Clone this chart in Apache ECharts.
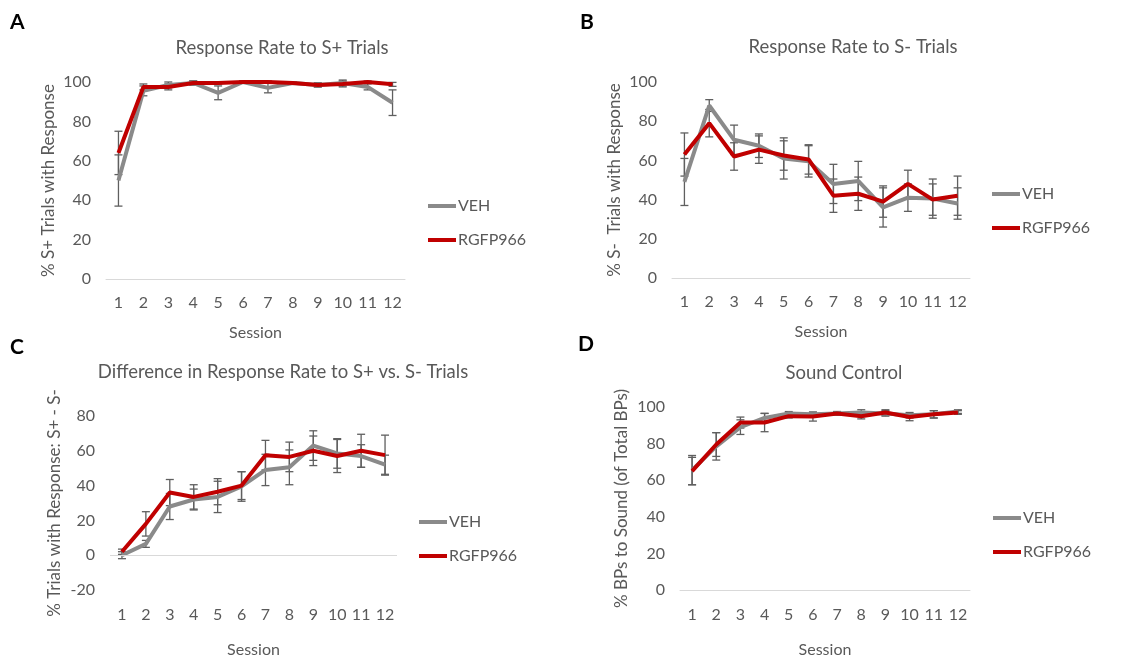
<!DOCTYPE html>
<html>
<head>
<meta charset="utf-8">
<script src="https://cdn.jsdelivr.net/npm/echarts@6/dist/echarts.min.js"></script>
<style>
  html, body { margin: 0; padding: 0; background: #ffffff; }
  #chart { width: 1137px; height: 659px; }
</style>
</head>
<body>
<div id="chart"></div>
<script>
// Sessions on the x axis
const sessions = ['1','2','3','4','5','6','7','8','9','10','11','12'];

// A: response rate to S+ trials (mean and SEM)
const vehA     = [50, 95.5, 98.5, 99.5, 94.5, 100, 97, 99.5, 98.5, 99.5, 97.5, 89.5];
const vehErrA  = [13, 2.5, 1.5, 1, 3.5, 0.5, 2.5, 0.5, 1, 1.5, 1.5, 6.5];
const rgfA     = [64, 97.5, 97.5, 99.5, 99.5, 100, 100, 99.5, 98.5, 99, 100, 98.8];
const rgfErrA  = [11, 1.5, 1.5, 1, 0.5, 0.5, 0.5, 0.5, 1, 1.5, 0.5, 1];

// B: response rate to S- trials
const vehB     = [49, 88, 70.5, 67.5, 61, 59.5, 48, 49.5, 36, 41, 40.5, 38];
const vehErrB  = [12, 3, 7.5, 6, 10.5, 8, 10, 10, 10, 7, 10, 8];
const rgfB     = [63, 79, 62, 65.5, 62.5, 60.5, 42, 43, 39, 48, 40, 42];
const rgfErrB  = [11, 7, 7, 7, 7.5, 7.5, 8.5, 8.5, 8, 7, 8, 10];

// C: difference S+ minus S-
const vehC     = [0, 6.5, 28, 32, 33.5, 39.5, 49, 50.5, 63, 58.5, 57, 52];
const vehErrC  = [2, 2, 7.5, 6, 9, 8.5, 9, 10, 8.5, 8.5, 6.5, 5.5];
const rgfC     = [2, 18, 36, 33.5, 36.5, 40, 57.5, 56.5, 60, 57, 60, 57.5];
const rgfErrC  = [1.5, 7, 7.5, 7, 7.5, 8, 8.5, 8.5, 8.5, 9.5, 9.5, 11.5];

// D: sound control
const vehD     = [65.5, 78.5, 89, 94, 96.5, 96, 96.5, 97, 96.5, 95.5, 96, 97.5];
const vehErrD  = [8, 7.5, 4, 2.5, 1, 1, 1, 1.5, 1.5, 1.5, 2, 1];
const rgfD     = [65, 79.5, 91.5, 91.5, 95, 94.8, 96.5, 95, 97, 94.5, 96, 97];
const rgfErrD  = [7.5, 6.5, 3, 5, 1, 2.5, 1, 1.5, 1.5, 2, 2, 1];

const titles = [
  'Response Rate to S+ Trials',
  'Response Rate to S- Trials',
  'Difference in Response Rate to S+ vs. S- Trials',
  'Sound Control'
];
const yNames = [
  '% S+ Trials with Response',
  '% S-  Trials with Response',
  '% Trials with Response: S+ - S-',
  '% BPs to Sound (of Total BPs)'
];
const letters = ['A', 'B', 'C', 'D'];

const FONT = 'Lato, "Open Sans", sans-serif';
const TXT = '#595959';
const GRAY = '#8a8a8a';
const RED = '#c00000';

const panels = [
  { grid: { left: 106, width: 299, top: 82, height: 197 }, yMin: 0, yMax: 100,
    veh: vehA, vehErr: vehErrA, rgf: rgfA, rgfErr: rgfErrA, sessionGap: 46,
    titleX: 277, titleY: 34, letterX: 10, letterY: 12, legendX: 428, legendY: 198, nameGapY: 49 },
  { grid: { left: 672, width: 298, top: 82, height: 196 }, yMin: 0, yMax: 100,
    veh: vehB, vehErr: vehErrB, rgf: rgfB, rgfErr: rgfErrB, sessionGap: 46,
    titleX: 848, titleY: 33, letterX: 580, letterY: 12, legendX: 992, legendY: 186, nameGapY: 49 },
  { grid: { left: 110, width: 287, top: 416, height: 181 }, yMin: -20, yMax: 80,
    veh: vehC, vehErr: vehErrC, rgf: rgfC, rgfErr: rgfErrC, sessionGap: 52,
    titleX: 278, titleY: 358, letterX: 10, letterY: 337, legendX: 419, legendY: 514, nameGapY: 47 },
  { grid: { left: 680, width: 290, top: 407, height: 191 }, yMin: 0, yMax: 100,
    veh: vehD, vehErr: vehErrD, rgf: rgfD, rgfErr: rgfErrD, sessionGap: 52,
    titleX: 839, titleY: 359, letterX: 578, letterY: 334, legendX: 993, legendY: 510, nameGapY: 50 }
];

// Vertical SEM bar with short caps, placed through the chart's own axes
function errorBarRenderer(params, api) {
  const i = api.value(0);
  const m = api.value(1);
  const e = api.value(2);
  const hi = api.coord([i, m + e]);
  const lo = api.coord([i, m - e]);
  const cap = 4;
  const style = { stroke: '#5f5f5f', lineWidth: 1.3, fill: null };
  return {
    type: 'group',
    children: [
      { type: 'line', shape: { x1: hi[0], y1: hi[1], x2: lo[0], y2: lo[1] }, style },
      { type: 'line', shape: { x1: hi[0] - cap, y1: hi[1], x2: hi[0] + cap, y2: hi[1] }, style },
      { type: 'line', shape: { x1: lo[0] - cap, y1: lo[1], x2: lo[0] + cap, y2: lo[1] }, style }
    ]
  };
}

const grid = [], xAxis = [], yAxis = [], series = [], title = [], legend = [];

panels.forEach((p, k) => {
  grid.push(p.grid);
  xAxis.push({
    type: 'category', gridIndex: k, data: sessions, boundaryGap: true,
    name: 'Session', nameLocation: 'middle', nameGap: p.sessionGap,
    nameTextStyle: { fontFamily: FONT, fontSize: 16, color: TXT },
    axisLine: { show: k !== 2, onZero: false, lineStyle: { color: '#d9d9d9', width: 1 } },
    axisTick: { show: false },
    axisLabel: { fontFamily: FONT, fontSize: 16, color: TXT, margin: k >= 2 ? 17 : 16, interval: 0 }
  });
  yAxis.push({
    type: 'value', gridIndex: k, min: p.yMin, max: p.yMax, interval: 20,
    name: yNames[k], nameLocation: 'middle', nameGap: p.nameGapY,
    nameTextStyle: { fontFamily: FONT, fontSize: 17, color: TXT },
    axisLine: { show: false }, axisTick: { show: false }, splitLine: { show: false },
    axisLabel: { fontFamily: FONT, fontSize: 16, color: TXT, margin: 15 }
  });
  title.push({
    text: titles[k], left: p.titleX, top: p.titleY, textAlign: 'center',
    textStyle: { fontFamily: FONT, fontSize: 18.5, fontWeight: 'normal', color: TXT }
  });
  title.push({
    text: letters[k], left: p.letterX, top: p.letterY, padding: 0,
    textStyle: { fontFamily: FONT, fontSize: 21, fontWeight: 'bold', color: '#000' }
  });
  legend.push({
    data: ['VEH', 'RGFP966'], orient: 'vertical', left: p.legendX, top: p.legendY,
    itemGap: 18, itemWidth: 28, itemHeight: 4, icon: 'rect', padding: 0,
    textStyle: { fontFamily: FONT, fontSize: 16, color: TXT, padding: [0, 0, 0, -3] },
    selectedMode: false
  });

  const errData = (vals, errs) => vals.map((v, i) => [i, v, errs[i]]);
  series.push({
    name: 'VEH err', type: 'custom', xAxisIndex: k, yAxisIndex: k, z: 2,
    renderItem: errorBarRenderer, data: errData(p.veh, p.vehErr), silent: true
  });
  series.push({
    name: 'RGFP966 err', type: 'custom', xAxisIndex: k, yAxisIndex: k, z: 2,
    renderItem: errorBarRenderer, data: errData(p.rgf, p.rgfErr), silent: true
  });
  const vehSeries = {
    name: 'VEH', type: 'line', xAxisIndex: k, yAxisIndex: k, z: 3,
    data: p.veh, symbol: 'none', color: GRAY,
    lineStyle: { color: GRAY, width: 4 }
  };
  if (k === 2) {
    // zero baseline of the difference panel
    vehSeries.markLine = {
      silent: true, symbol: 'none', label: { show: false },
      lineStyle: { color: '#d9d9d9', width: 1, type: 'solid' },
      data: [{ yAxis: 0 }]
    };
  }
  series.push(vehSeries);
  series.push({
    name: 'RGFP966', type: 'line', xAxisIndex: k, yAxisIndex: k, z: 4,
    data: p.rgf, symbol: 'none', color: RED,
    lineStyle: { color: RED, width: 4 }
  });
});

const chart = echarts.init(document.getElementById('chart'), null, { renderer: 'canvas' });
chart.setOption({
  backgroundColor: '#ffffff',
  animation: false,
  title, legend, grid, xAxis, yAxis, series
});
</script>
</body>
</html>
